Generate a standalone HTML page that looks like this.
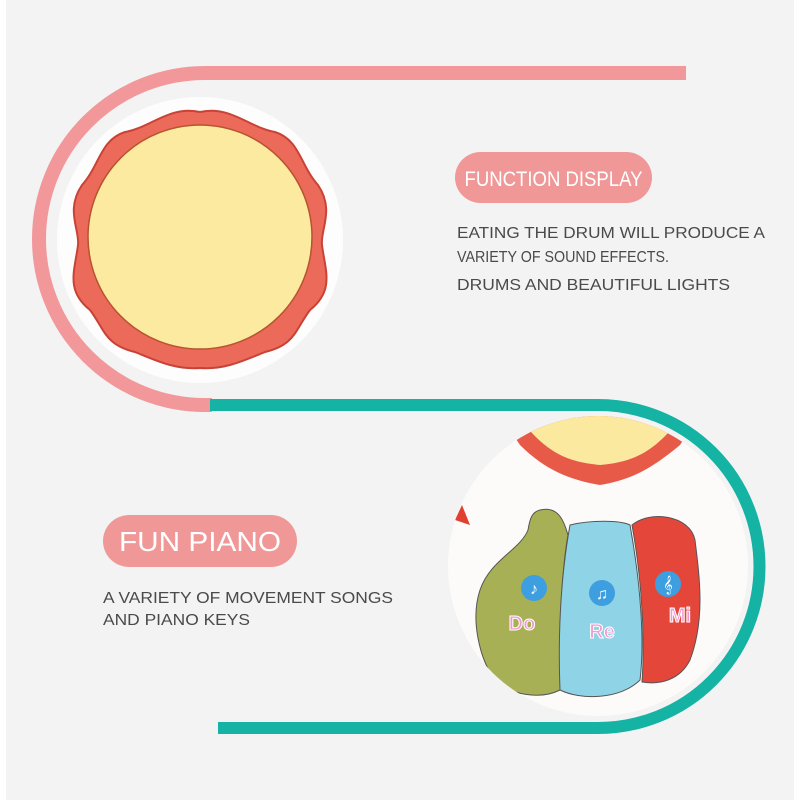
<!DOCTYPE html>
<html><head><meta charset="utf-8"><style>
html,body{margin:0;padding:0;background:#fff}
svg{display:block}
text{font-family:"Liberation Sans",sans-serif}
</style></head><body>
<svg width="800" height="800" viewBox="0 0 800 800" xmlns="http://www.w3.org/2000/svg">
<rect x="6" y="0" width="788" height="800" fill="#f3f3f3"/>
<!-- drum -->
<circle cx="200" cy="240" r="143" fill="#fdfdfd"/>
<path d="M200,112 C230,105 250,128 275,132 C300,140 300,165 318,185 C335,210 320,230 322,245 C325,270 335,290 310,310 C295,330 295,345 265,352 C245,360 225,370 200,368 C175,370 155,360 135,352 C105,345 105,330 90,310 C65,290 75,270 78,245 C80,230 65,210 82,185 C100,165 100,140 125,132 C150,128 170,105 200,112 Z" fill="#ec6a5a" stroke="#c94236" stroke-width="2"/>
<circle cx="200" cy="237" r="112" fill="#fbeaa0" stroke="#b8532e" stroke-width="1.5"/>
<!-- piano -->
<defs><clipPath id="pc"><circle cx="598" cy="566" r="150"/></clipPath></defs>
<g clip-path="url(#pc)">
<rect x="440" y="410" width="320" height="320" fill="#fcfbfa"/>
<path d="M510,430 C540,400 660,400 690,430 L680,445 C650,470 630,480 600,485 C570,480 545,470 520,445 Z" fill="#e85a48"/>
<path d="M525,425 C560,410 640,410 675,425 C650,455 630,462 600,465 C570,462 550,455 525,425 Z" fill="#fbe9a0"/>
<path d="M455,520 L462,505 L470,525 Z" fill="#e04030"/>
<path d="M540,510 C560,505 565,525 568,535 C560,580 560,640 560,690 C540,700 510,695 495,680 C480,660 470,620 480,590 C490,560 520,550 528,530 C530,518 532,512 540,510 Z" fill="#a8b055" stroke="#555" stroke-width="1"/>
<path d="M570,525 C590,520 620,520 630,525 C640,580 645,640 640,680 C620,700 580,700 560,690 C558,640 560,580 570,525 Z" fill="#8fd3e6" stroke="#555" stroke-width="1"/>
<path d="M632,525 C650,510 690,515 695,540 C700,580 705,620 690,660 C680,680 660,685 642,682 C645,640 642,580 632,525 Z" fill="#e4473a" stroke="#555" stroke-width="1"/>
<circle cx="534" cy="588" r="13" fill="#3d9ee0"/><text x="534" y="594" font-size="16" fill="#fff" text-anchor="middle">♪</text>
<circle cx="602" cy="593" r="13" fill="#3d9ee0"/><text x="602" y="599" font-size="16" fill="#fff" text-anchor="middle">♫</text>
<circle cx="668" cy="584" r="13" fill="#3d9ee0"/><text x="668" y="590" font-size="16" fill="#fff" text-anchor="middle">𝄞</text>
<text x="522" y="630" font-size="20" font-weight="bold" fill="#f19ad0" stroke="#fff" stroke-width="1" text-anchor="middle">Do</text>
<text x="602" y="638" font-size="20" font-weight="bold" fill="#f19ad0" stroke="#fff" stroke-width="1" text-anchor="middle">Re</text>
<text x="680" y="622" font-size="20" font-weight="bold" fill="#f19ad0" stroke="#fff" stroke-width="1" text-anchor="middle">Mi</text>
</g>
<!-- lines -->
<path d="M686,73 L205,73 A166,166 0 0 0 205,405 L212,405" fill="none" stroke="#f2979a" stroke-width="14"/>
<path d="M210,405 L598,405 A161.5,161.5 0 0 1 598,728 L218,728" fill="none" stroke="#14b3a3" stroke-width="12"/>
<!-- pills -->
<rect x="455" y="152" width="197" height="51" rx="25.5" fill="#f09898"/>
<text x="553.5" y="186" font-size="21" fill="#fff" text-anchor="middle" textLength="178" lengthAdjust="spacingAndGlyphs">FUNCTION DISPLAY</text>
<rect x="103" y="515" width="194" height="52" rx="26" fill="#f09898"/>
<text x="200" y="551" font-size="28" fill="#fff" text-anchor="middle" textLength="162" lengthAdjust="spacingAndGlyphs">FUN PIANO</text>
<g font-size="16" fill="#4a4a4a">
<text x="457" y="238" textLength="308" lengthAdjust="spacingAndGlyphs">EATING THE DRUM WILL PRODUCE A</text>
<text x="457" y="262" textLength="212" lengthAdjust="spacingAndGlyphs">VARIETY OF SOUND EFFECTS.</text>
<text x="457" y="290" textLength="273" lengthAdjust="spacingAndGlyphs">DRUMS AND BEAUTIFUL LIGHTS</text>
<text x="103" y="603" textLength="290" lengthAdjust="spacingAndGlyphs">A VARIETY OF MOVEMENT SONGS</text>
<text x="103" y="625" textLength="147" lengthAdjust="spacingAndGlyphs">AND PIANO KEYS</text>
</g>
</svg>
</body></html>
